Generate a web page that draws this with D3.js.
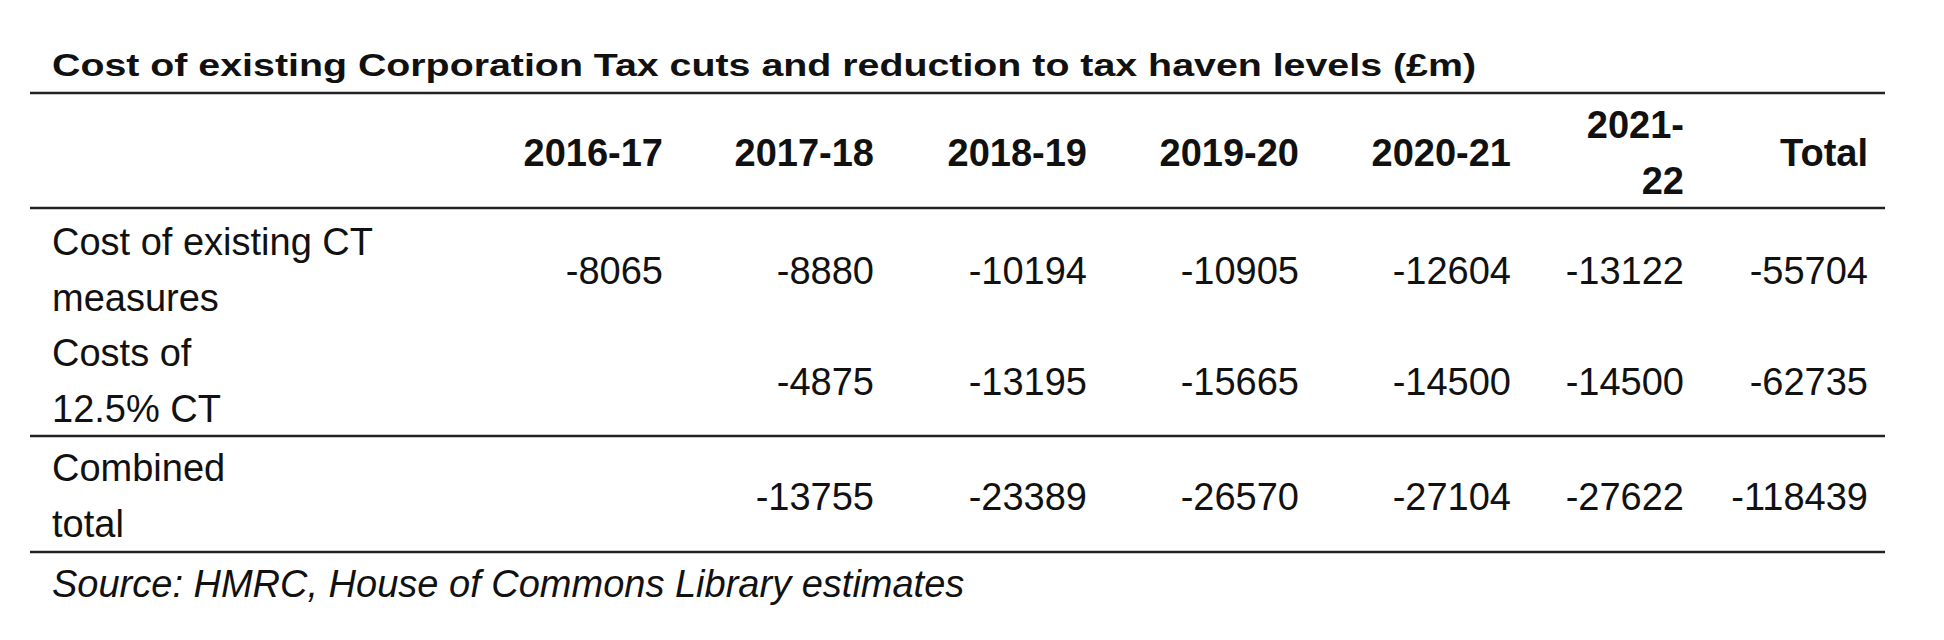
<!DOCTYPE html>
<html>
<head>
<meta charset="utf-8">
<script src="https://d3js.org/d3.v7.min.js"></script>
<style>
  body { margin: 0; background: #fff; }
  text { font-family: "Liberation Sans", Arial, sans-serif; fill: #111; }
</style>
</head>
<body>
<script>
  var title = "Cost of existing Corporation Tax cuts and reduction to tax haven levels (£m)"
  var columns = [["2016-17"], ["2017-18"], ["2018-19"], ["2019-20"], ["2020-21"], ["2021-", "22"], ["Total"]]
  var rowLabels = [["Cost of existing CT", "measures"], ["Costs of", "12.5% CT"], ["Combined", "total"]]
  var existingCT = [-8065, -8880, -10194, -10905, -12604, -13122, -55704]
  var costs125 = [null, -4875, -13195, -15665, -14500, -14500, -62735]
  var combined = [null, -13755, -23389, -26570, -27104, -27622, -118439]
  var source = "Source: HMRC, House of Commons Library estimates"

  var rows = [existingCT, costs125, combined]
  var fs = 38

  var svg = d3.select("body").append("svg")
    .attr("width", 1944)
    .attr("height", 640)

  // right edge of each column
  var x = d3.scaleOrdinal()
    .domain(d3.range(columns.length))
    .range([663, 874, 1087, 1299, 1511, 1684, 1868])

  var rowY = d3.scaleOrdinal().domain([0, 1, 2]).range([282, 393, 508])

  svg.append("text")
    .attr("x", 52).attr("y", 76)
    .attr("font-size", 31).attr("font-weight", "bold")
    .attr("textLength", 1424).attr("lengthAdjust", "spacingAndGlyphs")
    .text(title)

  // rules
  svg.selectAll("line.rule")
    .data([93, 208, 436, 552])
    .join("line")
    .attr("x1", 30).attr("x2", 1885)
    .attr("y1", d => d).attr("y2", d => d)
    .attr("stroke", "#222").attr("stroke-width", 2.5)

  // header
  columns.forEach(function(c, i){
    var t = svg.append("text")
      .attr("text-anchor", "end")
      .attr("font-size", fs).attr("font-weight", "bold")
      .attr("x", x(i))
      .attr("y", c.length > 1 ? 138 : 166)
    c.forEach(function(s, j){
      t.append("tspan").attr("x", x(i)).attr("dy", j ? 56 : 0).text(s)
    })
  })

  // body
  rows.forEach(function(vals, r){
    var t = svg.append("text")
      .attr("font-size", fs)
      .attr("x", 52).attr("y", rowY(r) - 27)
    rowLabels[r].forEach(function(s, j){
      t.append("tspan").attr("x", 52).attr("dy", j ? 56 : 0).text(s)
    })
    svg.selectAll(null)
      .data(vals.map((v, i) => ({v: v, i: i})).filter(d => d.v !== null))
      .join("text")
      .attr("text-anchor", "end")
      .attr("font-size", fs)
      .attr("x", d => x(d.i))
      .attr("y", rowY(r) + 2)
      .text(d => d.v)
  })

  svg.append("text")
    .attr("x", 52).attr("y", 597)
    .attr("font-size", fs).attr("font-style", "italic")
    .text(source)
</script>
</body>
</html>
